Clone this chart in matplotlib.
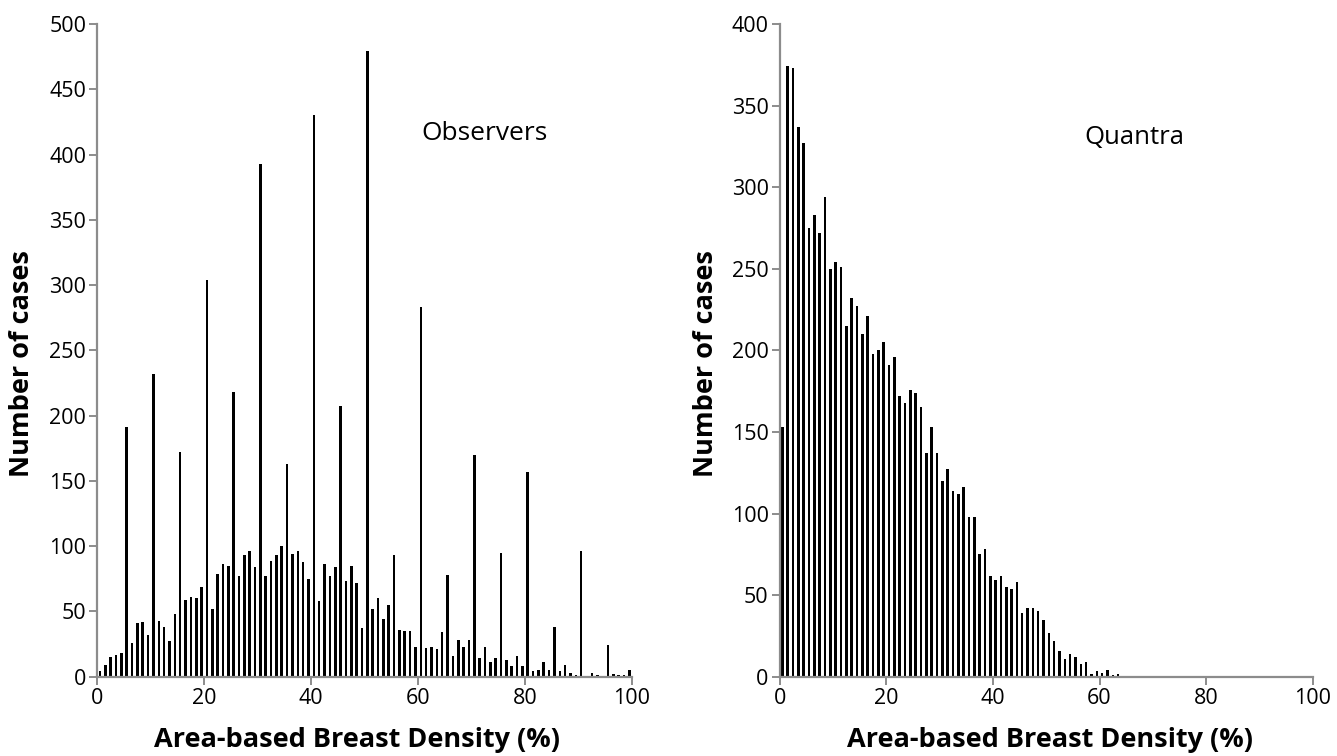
import matplotlib
matplotlib.use("Agg")
import matplotlib.pyplot as plt
import numpy as np

plt.rcParams['font.family'] = ['Open Sans', 'DejaVu Sans']

# bin left edges (1% bins, 0..99)
bins = list(range(100))

observers = [4, 9, 15, 17, 18, 191, 26, 41, 42, 32,
             232, 43, 38, 27, 48, 172, 59, 61, 60, 69,
             304, 52, 79, 86, 85, 218, 77, 93, 96, 84,
             393, 77, 89, 93, 100, 163, 94, 96, 88, 75,
             430, 58, 86, 77, 84, 207, 73, 85, 72, 37,
             479, 52, 60, 44, 55, 93, 36, 35, 35, 23,
             283, 22, 23, 21, 34, 78, 16, 28, 23, 28,
             170, 14, 23, 11, 14, 95, 13, 8, 16, 8,
             157, 4, 5, 11, 5, 38, 4, 9, 3, 1,
             96, 0, 3, 1, 0, 24, 2, 1, 1, 5]

quantra = [153, 374, 373, 337, 327, 275, 283, 272, 294, 250,
           254, 251, 215, 232, 227, 210, 221, 198, 200, 205,
           191, 196, 172, 168, 176, 174, 165, 137, 153, 137,
           120, 127, 114, 112, 116, 98, 98, 75, 78, 62,
           59, 62, 55, 54, 58, 39, 42, 42, 40, 35,
           27, 22, 16, 11, 14, 12, 8, 9, 1.5, 3.5,
           2.4, 4.3, 1.3, 1.4, 0.5, 0, 0, 0, 0, 0,
           0, 0, 0, 0, 0, 0, 0, 0.5, 0, 0,
           0, 0, 0, 0, 0, 0, 0, 0, 0, 0,
           0, 0, 0, 0, 0, 0, 0, 0, 0, 0]

x_ticks = [0, 20, 40, 60, 80, 100]
left_yticks = list(range(0, 501, 50))
right_yticks = list(range(0, 401, 50))

W, H = 1337, 756
fig = plt.figure(figsize=(W / 100, H / 100), dpi=100)

axis_col = '#8c8c8c'

def style(ax, ymax, yticks):
    ax.set_xlim(0, 100)
    ax.set_ylim(0, ymax)
    ax.set_xticks(x_ticks)
    ax.set_yticks(yticks)
    for s in ['top', 'right']:
        ax.spines[s].set_visible(False)
    for s in ['left', 'bottom']:
        ax.spines[s].set_color(axis_col)
        ax.spines[s].set_linewidth(1.6)
    ax.tick_params(axis='both', colors=axis_col, width=1.4, length=6,
                   labelcolor='black', labelsize=15.5, pad=2)

centers = np.array(bins) + 0.5

ax1 = fig.add_axes([97.3 / W, 1 - 676.7 / H, (632 - 97.3) / W, (676.7 - 24) / H])
ax1.bar(centers, observers, width=0.48, color='black', linewidth=0)
style(ax1, 500, left_yticks)

ax2 = fig.add_axes([779.7 / W, 1 - 676.7 / H, (1312.7 - 779.7) / W, (676.7 - 24) / H])
ax2.bar(centers, quantra, width=0.48, color='black', linewidth=0)
style(ax2, 400, right_yticks)

lab_kw = dict(fontsize=19.5, fontweight='bold')
fig.text(357 / W, 1 - 740 / H, 'Area-based Breast Density (%)', ha='center', va='center', **lab_kw)
fig.text(1050 / W, 1 - 740 / H, 'Area-based Breast Density (%)', ha='center', va='center', **lab_kw)
fig.text(22 / W, 1 - 364 / H, 'Number of cases', rotation=90, ha='center', va='center', **lab_kw)
fig.text(706 / W, 1 - 364 / H, 'Number of cases', rotation=90, ha='center', va='center', **lab_kw)

fig.text(484 / W, 1 - 133 / H, 'Observers', fontsize=19, ha='center', va='center')
fig.text(1134 / W, 1 - 138 / H, 'Quantra', fontsize=18.5, ha='center', va='center')

fig.savefig('out.png', dpi=100)
